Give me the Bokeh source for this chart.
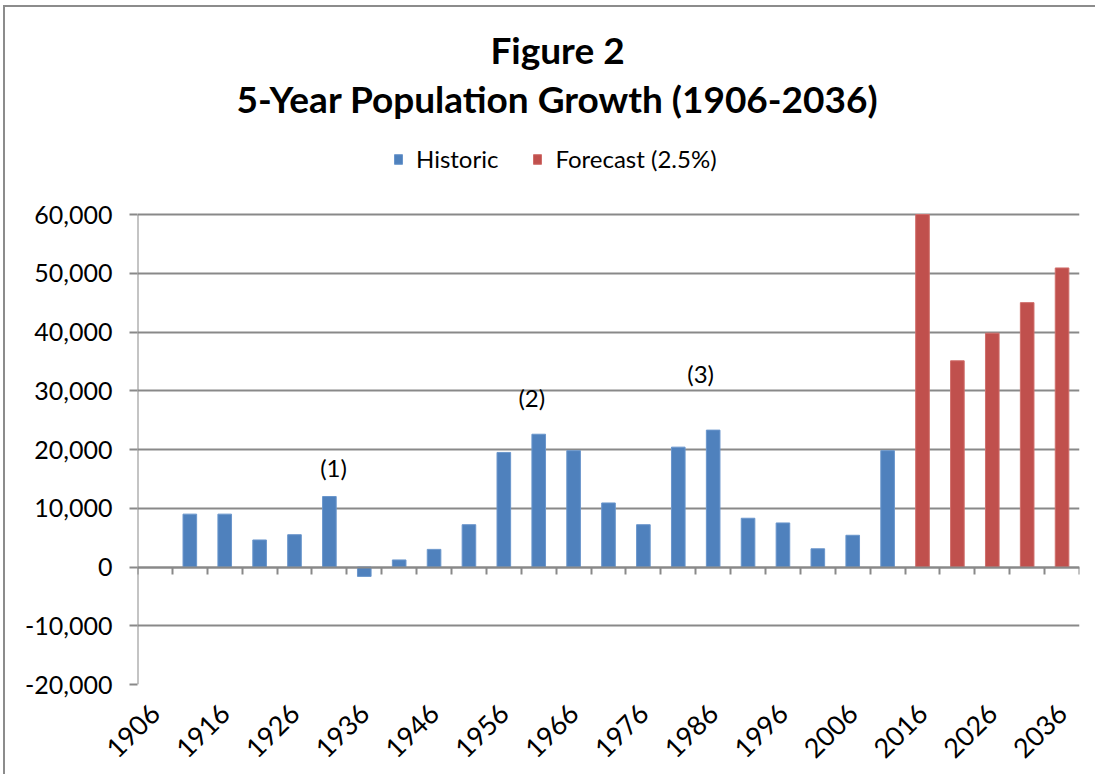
from bokeh.plotting import figure
from bokeh.models import (Range1d, FixedTicker, LinearAxis, Label, Legend, LegendItem,
                          NumeralTickFormatter, Grid)
from bokeh.core.properties import value
from bokeh.embed import file_html
from bokeh.resources import INLINE
import math

# ---- data ----
years = [1906, 1911, 1916, 1921, 1926, 1931, 1936, 1941, 1946, 1951, 1956, 1961, 1966,
         1971, 1976, 1981, 1986, 1991, 1996, 2001, 2006, 2011, 2016, 2021, 2026, 2031, 2036]
hist_years = [1911, 1916, 1921, 1926, 1931, 1936, 1941, 1946, 1951, 1956, 1961, 1966,
              1971, 1976, 1981, 1986, 1991, 1996, 2001, 2006, 2011]
hist_values = [9000, 9000, 4600, 5500, 12000, -1600, 1200, 3000, 7200, 19500, 22600, 19800,
               10900, 7200, 20400, 23300, 8300, 7500, 3100, 5400, 19800]
fc_years = [2016, 2021, 2026, 2031, 2036]
fc_values = [60000, 35100, 39800, 45000, 50900]
x_label_years = years[::2]
y_ticks = [-20000, -10000, 0, 10000, 20000, 30000, 40000, 50000, 60000]
notes = ["(1)", "(2)", "(3)"]
note_x = [1931.6, 1960.0, 1984.2]
note_y = [17000, 28800, 32900]

series_names = ["Historic", "Forecast (2.5%)"]
title_lines = ["Figure 2", "5-Year Population Growth (1906-2036)"]

BLUE = "#4F81BD"
RED = "#C0504D"
GRID = "#898989"
FONT = "Lato"

W, H = 1092, 769
BORDER_L, BORDER_R, BORDER_B = 132, 18, 92
PLOT_H = 470          # pixel height of the value area (-20000 .. 60000)
frame_h = H - BORDER_B
y_span = y_ticks[-1] - y_ticks[0]
y_end = y_ticks[0] + y_span * frame_h / PLOT_H   # frame extends up to hold title/legend

half = (years[1] - years[0]) / 2
bounds = [y - half for y in years] + [years[-1] + half]
bar_w = (years[1] - years[0]) * 0.39

p = figure(width=W, height=H, output_backend="svg", toolbar_location=None,
           x_range=Range1d(bounds[0], bounds[-1]), y_range=Range1d(y_ticks[0], y_end),
           min_border_left=BORDER_L, min_border_right=BORDER_R, min_border_top=0,
           min_border_bottom=BORDER_B, x_axis_type=None, y_axis_type=None)
p.outline_line_color = None
p.background_fill_color = "white"
p.border_fill_color = "white"
p.styles = {"border-left": "2px solid #8c8c8c", "border-top": "2px solid #8c8c8c",
            "margin-left": "3px", "margin-top": "5px"}

# y axis (labels + ticks); its line is drawn only over the value span below
yaxis = LinearAxis(ticker=FixedTicker(ticks=y_ticks, minor_ticks=[]),
                   formatter=NumeralTickFormatter(format="0,0"))
yaxis.axis_line_color = None
yaxis.major_tick_line_color = GRID
yaxis.major_tick_line_width = 2
yaxis.major_tick_out = 8
yaxis.major_tick_in = 0
yaxis.minor_tick_line_color = None
yaxis.major_label_text_font = FONT
yaxis.major_label_text_font_size = "25px"
yaxis.major_label_text_color = "#000000"
yaxis.major_label_standoff = 17
p.add_layout(yaxis, "left")

# bottom axis with labels
xaxis = LinearAxis(ticker=FixedTicker(ticks=x_label_years, minor_ticks=[]))
xaxis.axis_line_color = None
xaxis.major_tick_line_color = None
xaxis.minor_tick_line_color = None
xaxis.major_tick_out = 0
xaxis.major_tick_in = 0
xaxis.major_label_orientation = math.pi / 4
xaxis.major_label_text_font = FONT
xaxis.major_label_text_font_size = "27px"
xaxis.major_label_text_color = "#000000"
xaxis.major_label_standoff = 24
p.add_layout(xaxis, "below")

# grid lines
p.add_layout(Grid(dimension=1, ticker=FixedTicker(ticks=y_ticks, minor_ticks=[]),
                  grid_line_color=GRID, grid_line_width=2))

# vertical axis line over the value span
p.segment(x0=[bounds[0]], y0=[y_ticks[0]], x1=[bounds[0]], y1=[y_ticks[-1]],
          line_color=GRID, line_width=2)

r_hist = p.vbar(x=hist_years, top=hist_values, bottom=0, width=bar_w,
                fill_color=BLUE, line_color="#6a96cc", line_width=1)
r_fc = p.vbar(x=fc_years, top=fc_values, bottom=0, width=bar_w,
              fill_color=RED, line_color="#d06d6a", line_width=1)

# axis line at zero with category boundary ticks
zaxis = LinearAxis(fixed_location=0, ticker=FixedTicker(ticks=bounds, minor_ticks=[]))
zaxis.axis_line_color = GRID
zaxis.axis_line_width = 2
zaxis.major_tick_line_color = GRID
zaxis.major_tick_line_width = 2
zaxis.major_tick_out = 7
zaxis.major_tick_in = 0
zaxis.minor_tick_line_color = None
zaxis.major_label_text_font_size = "0px"
zaxis.major_label_text_alpha = 0
p.add_layout(zaxis, "below")

p.text(x=note_x, y=note_y, text=notes, text_align="center", text_baseline="middle",
       text_font=value(FONT), text_font_size="24px", text_color="#000000")

legend = Legend(items=[LegendItem(label=series_names[0], renderers=[r_hist]),
                       LegendItem(label=series_names[1], renderers=[r_fc])],
                orientation="horizontal", location=(256, 511))
legend.glyph_width = 10
legend.glyph_height = 12
legend.label_text_font = FONT
legend.label_text_font_size = "24px"
legend.label_text_color = "#000000"
legend.label_standoff = 13
legend.spacing = 34
legend.padding = 0
legend.margin = 0
legend.border_line_color = None
legend.background_fill_alpha = 0
legend.label_height = 24
p.add_layout(legend, "center")

p.add_layout(Label(x=420, y=635, x_units="screen", y_units="screen", text=title_lines[0],
                   text_align="center", text_baseline="alphabetic", text_font=FONT,
                   text_font_style="bold", text_font_size="37px", text_color="#000000"))
p.add_layout(Label(x=420, y=586, x_units="screen", y_units="screen", text=title_lines[1],
                   text_align="center", text_baseline="alphabetic", text_font=FONT,
                   text_font_style="bold", text_font_size="37px", text_color="#000000"))

open("out.html", "w").write(file_html(p, INLINE))
